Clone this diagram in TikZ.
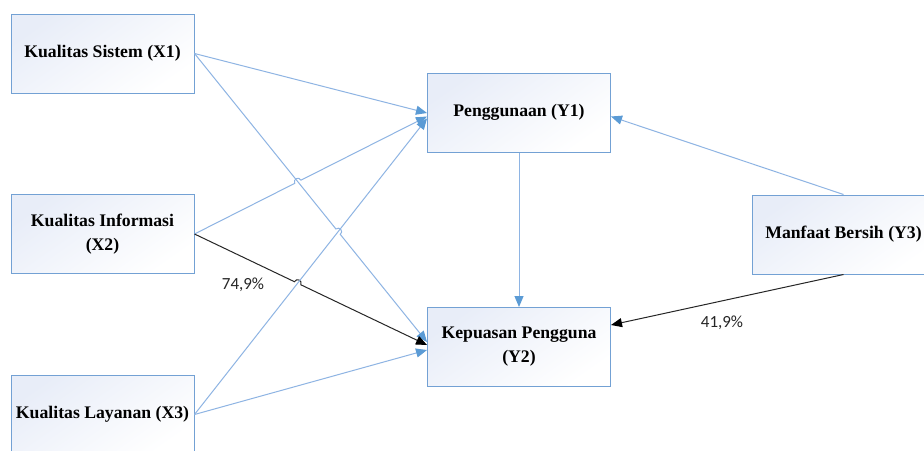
\documentclass[tikz,border=0pt]{standalone}
\usepackage{fontspec}
\setmainfont{Liberation Serif}
\newfontfamily\lblfont{Carlito}
\usetikzlibrary{arrows.meta,calc,intersections}
\definecolor{boxborder}{HTML}{73A1D4}
\definecolor{boxfill}{HTML}{E8EDF8}
\definecolor{lineblue}{HTML}{8EB4E3}
\definecolor{tipblue}{HTML}{5B9BD5}
\definecolor{darkline}{HTML}{262626}
\tikzset{
  varbox/.style={draw=boxborder, line width=1pt, top color=boxfill, bottom color=white, shading angle=35,
    minimum width=183pt, minimum height=79pt, inner sep=0pt, align=center,
    font=\fontsize{17.7}{24}\selectfont\bfseries},
  blueline/.style={draw=lineblue, line width=1pt, -{Triangle[length=11pt,width=9pt,color=tipblue]}},
  blackline/.style={draw=darkline, line width=1pt, -{Triangle[length=11pt,width=9pt,color=black]}},
  pctlabel/.style={font=\lblfont\fontsize{17}{20}\selectfont, text=darkline, inner sep=0pt}
}
\newcommand\hopdraw[4]{%
  \coordinate (hs) at ($(#3)!3.5pt!(#2)$);
  \coordinate (he) at ($(#3)!3.5pt!(#4)$);
  \draw[#1] (#2) -- (hs) .. controls ($(hs)!4.7pt!90:(he)$) and ($(he)!4.7pt!-90:(hs)$) .. (he) -- (#4);
}
\begin{document}
\begin{tikzpicture}[x=1pt,y=-1pt]
\clip (0,0) rectangle (924,450);
\fill[white] (0,0) rectangle (924,450);
\node[varbox] (x1) at (102.5,53.5) {Kualitas Sistem (X1)};
\node[varbox] (x2) at (102.5,234) {Kualitas Informasi\\(X2)};
\node[varbox] (x3) at (102.5,414.5) {Kualitas Layanan (X3)};
\node[varbox] (y1) at (519,112.5) {Penggunaan (Y1)};
\node[varbox] (y2) at (519,347) {Kepuasan Pengguna\\(Y2)};
\node[varbox] (y3) at (843.5,234.5) {Manfaat Bersih (Y3)};
% attachment points
\coordinate (y1a) at ($(y1.west)+(0,0.5)$);
\coordinate (y1b) at ($(y1.west)+(0,4)$);
\coordinate (y1c) at ($(y1.west)+(0,6)$);
\coordinate (y2a) at ($(y2.west)+(0,-5)$);
\coordinate (y2b) at ($(y2.west)+(0,-2)$);
\coordinate (y2c) at ($(y2.west)+(0,3)$);
\coordinate (y1r) at ($(y1.east)+(0,4)$);
\coordinate (y2r) at ($(y2.east)+(0,-22)$);
% invisible paths for crossings
\path[name path=pa] (x1.east) -- (y2a);
\path[name path=pb] (x3.east) -- (y1c);
\path[name path=pc] (x2.east) -- (y1b);
\path[name path=pd] (x2.east) -- (y2b);
\path[name intersections={of=pc and pa, by=h1}];
\path[name intersections={of=pa and pb, by=h2}];
\path[name intersections={of=pd and pb, by=h3}];
% connectors
\draw[blueline] (x1.east) -- (y1a);
\hopdraw{blueline}{x1.east}{h2}{y2a}
\hopdraw{blueline}{x2.east}{h1}{y1b}
\hopdraw{blackline}{x2.east}{h3}{y2b}
\draw[blueline] (x3.east) -- (y1c);
\draw[blueline] (x3.east) -- (y2c);
\draw[blueline] (y1.south) -- (y2.north);
\draw[blueline] (y3.north) -- (y1r);
\draw[blackline] (y3.south) -- (y2r);
% labels
\node[pctlabel] (l1) at (243,285) {74,9\%};
\node[pctlabel] (l2) at (722,323) {41,9\%};
\end{tikzpicture}
\end{document}
